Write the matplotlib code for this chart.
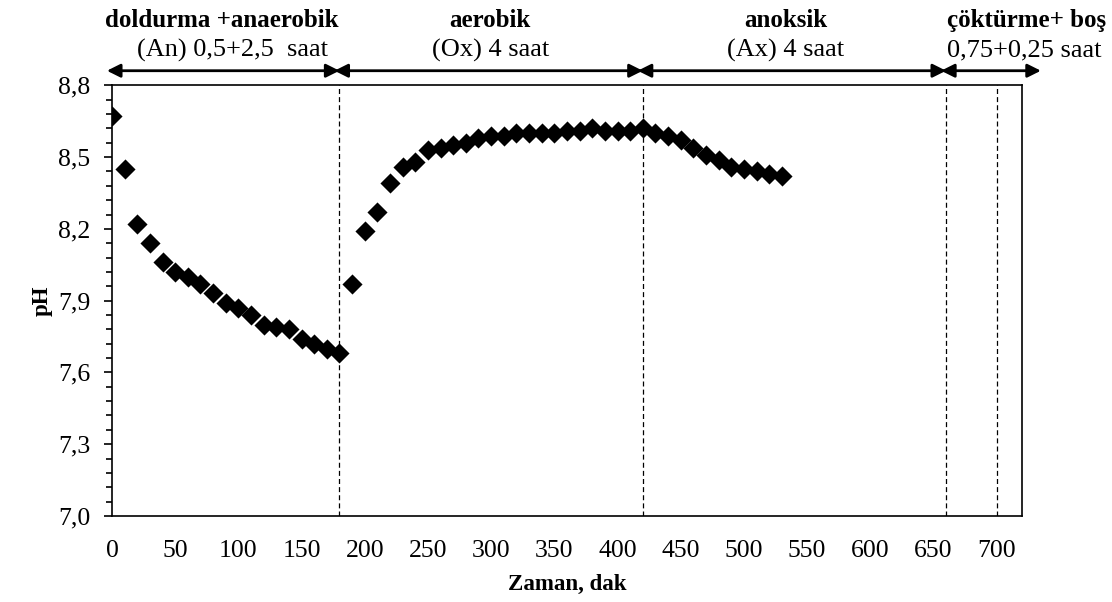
import matplotlib.pyplot as plt
import numpy as np
from matplotlib.ticker import MultipleLocator, FixedLocator, FuncFormatter

plt.rcParams['font.family'] = ['Liberation Serif', 'DejaVu Serif']

# zaman (dak) ve pH okumalari
zaman = list(range(0, 540, 10))
ph_an = [8.67, 8.45, 8.22, 8.14, 8.06, 8.02, 8.00, 7.97, 7.93, 7.89,
         7.87, 7.84, 7.80, 7.79, 7.78, 7.74, 7.72, 7.70, 7.68]
ph_ox = [7.97, 8.19, 8.27, 8.39, 8.46, 8.48, 8.53, 8.54, 8.55, 8.56,
         8.58, 8.59, 8.59, 8.60, 8.60, 8.60, 8.60, 8.61, 8.61, 8.62,
         8.61, 8.61, 8.61]
ph_ax = [8.62, 8.60, 8.59, 8.57, 8.54, 8.51, 8.49, 8.46, 8.45, 8.44,
         8.43, 8.42]
ph = ph_an + ph_ox + ph_ax

y_ticks = [7.0, 7.3, 7.6, 7.9, 8.2, 8.5, 8.8]

# faz sinirlari ve etiketleri
sinirlar = [0, 180, 420, 660, 735]
kesikler = [180, 420, 660, 700]
faz_baslik = ["doldurma +anaerobik", "aerobik", "anoksik", "çöktürme+ boş"]
faz_alt = ["(An) 0,5+2,5  saat", "(Ox) 4 saat", "(Ax) 4 saat", "0,75+0,25 saat"]
baslik_x = [87, 299, 533, 724]
alt_x = [95, 300, 533, 722]

fig = plt.figure(figsize=(11.12, 6.02), dpi=100)
ax = fig.add_axes([0.1007, 0.1429, 0.8183, 0.7153])

ax.scatter(zaman, ph, marker='D', s=105, color='black', zorder=3, linewidths=0)

for xv in kesikler:
    ax.axvline(xv, color='black', lw=0.9, ls=(0, (4, 2.5)), zorder=1)

ax.set_xlim(0, 720)
ax.set_ylim(7.0, 8.8)
ax.xaxis.set_major_locator(MultipleLocator(50))
ax.yaxis.set_major_locator(FixedLocator(y_ticks))
ax.yaxis.set_minor_locator(FixedLocator(np.linspace(7.0, 8.8, 31)))
ax.yaxis.set_major_formatter(FuncFormatter(lambda v, p: f"{v:.1f}".replace('.', ',')))
ax.tick_params(axis='both', which='major', labelsize=18.5, length=5.5, width=1.2, direction='out')
ax.tick_params(axis='y', which='major', pad=10)
ax.tick_params(axis='y', which='minor', length=4, width=1.2, direction='out')
ax.tick_params(axis='x', which='major', length=0, pad=17)
for sp in ax.spines.values():
    sp.set_linewidth(1.2)

ax.set_xlabel("Zaman, dak", fontsize=16.5, fontweight='bold')
ax.set_ylabel("pH", fontsize=16.5, fontweight='bold')
ax.xaxis.set_label_coords(0.5, -0.16)
ax.xaxis.label.set_verticalalignment('center')
ax.yaxis.set_label_coords(-0.077, 0.5)
ax.yaxis.label.set_verticalalignment('center')

# ust ok ve yazilar
tr = ax.get_xaxis_transform()
for a, b in zip(sinirlar[:-1], sinirlar[1:]):
    ax.annotate("", xy=(b, 1.034), xytext=(a - 4, 1.034), xycoords=tr, textcoords=tr,
                arrowprops=dict(arrowstyle='<|-|>', color='black', lw=2,
                                mutation_scale=20, shrinkA=0, shrinkB=0),
                annotation_clip=False)
for x0, t in zip(baslik_x, faz_baslik):
    ax.text(x0, 1.150, t, transform=tr, ha='center', va='center', fontsize=18,
            fontweight='bold', clip_on=False)
for x0, t in zip(alt_x, faz_alt):
    ax.text(x0, 1.081, t, transform=tr, ha='center', va='center', fontsize=19,
            clip_on=False)

fig.savefig("out.png", dpi=100)
